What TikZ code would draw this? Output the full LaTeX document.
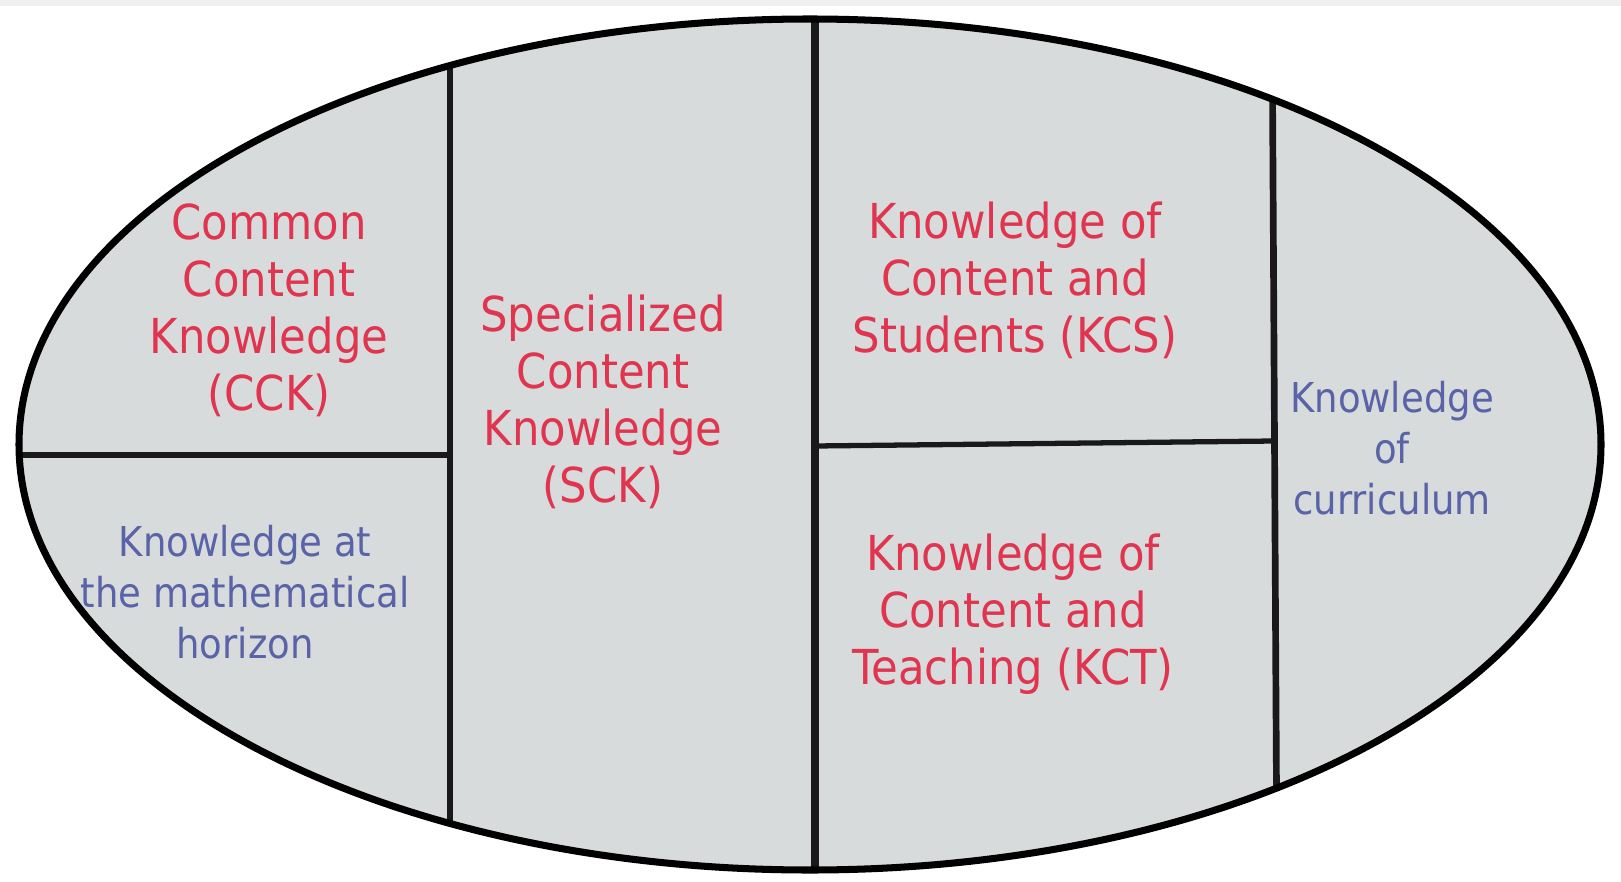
\documentclass[tikz,border=0pt]{standalone}
\usepackage{fontspec}
\setmainfont{DejaVu Sans}[FakeStretch=0.9]
\definecolor{kred}{HTML}{E0344F}
\definecolor{kblue}{HTML}{5A63A8}
\definecolor{kfill}{HTML}{D7DBDB}
\definecolor{kband}{HTML}{F2EFEF}
\tikzset{
  part/.style={draw=black!90, line width=1.9pt},
  split/.style={draw=black!90, line width=1.5pt},
  redtxt/.style={text=kred, align=center, font=\fontsize{13.7}{16.2}\selectfont, inner sep=0pt},
  bluetxt/.style={text=kblue, align=center, font=\fontsize{11.7}{14.5}\selectfont, inner sep=0pt},
}
\begin{document}
\begin{tikzpicture}[x=0.01cm,y=-0.01cm]
\useasboundingbox (0,0) rectangle (1621,882);
\fill[white] (0,0) rectangle (1621,882);
\fill[kband] (0,0) rectangle (1621,6);
\fill[kfill] (810,444.5) ellipse [x radius=791, y radius=425.5];
\coordinate (v1t) at (450,0);
\coordinate (v1b) at (450,882);
\coordinate (v2t) at (815,0);
\coordinate (v2b) at (815,882);
\coordinate (v3t) at (1272,0);
\coordinate (v3b) at (1277,882);
\coordinate (h1l) at (0,455);
\coordinate (h1r) at (450,455);
\coordinate (h2l) at (815,446);
\coordinate (h2r) at (1274,441);
\begin{scope}
\clip (810,444.5) ellipse [x radius=791, y radius=425.5];
\draw[part] (v1t) -- (v1b);
\draw[part, line width=2.2pt] (v2t) -- (v2b);
\draw[part] (v3t) -- (v3b);
\draw[split] (h1l) -- (h1r);
\draw[split] (h2l) -- (h2r);
\end{scope}
\draw[line width=2pt] (810,444.5) ellipse [x radius=791, y radius=425.5];
\node[redtxt] (cck) at (269,310) {Common\\Content\\Knowledge\\(CCK)};
\node[redtxt] (sck) at (603,402) {Specialized\\Content\\Knowledge\\(SCK)};
\node[redtxt] (kcs) at (1015,280) {Knowledge of\\Content and\\Students (KCS)};
\node[redtxt] (kct) at (1013,614) {Knowledge of\\Content and\\Teaching (KCT)};
\node[bluetxt] (hor) at (245,592) {Knowledge at\\the mathematical\\horizon};
\node[bluetxt] (cur) at (1392,448) {Knowledge\\of\\curriculum};
\end{tikzpicture}
\end{document}
